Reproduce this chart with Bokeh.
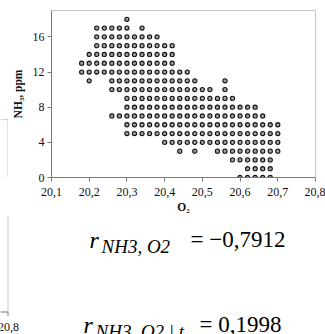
from bokeh.plotting import figure
from bokeh.layouts import column, row
from bokeh.models import Range1d, FixedTicker, CustomJSTickFormatter, ColumnDataSource
from bokeh.core.properties import value
from bokeh.embed import file_html
from bokeh.resources import INLINE

# NH3 level (ppm) -> O2 values (%) observed at that level
nh3_18 = [20.30]
nh3_17 = [20.22, 20.24, 20.26, 20.28, 20.30, 20.34]
nh3_16 = [20.22, 20.24, 20.26, 20.28, 20.30, 20.32, 20.34, 20.36, 20.38]
nh3_15 = [20.22, 20.24, 20.26, 20.28, 20.30, 20.32, 20.34, 20.36, 20.38, 20.40, 20.42]
nh3_14 = [20.20, 20.22, 20.24, 20.26, 20.28, 20.30, 20.32, 20.34, 20.36, 20.38, 20.40, 20.42]
nh3_13 = [20.18, 20.20, 20.22, 20.24, 20.26, 20.28, 20.30, 20.32, 20.34, 20.36, 20.38, 20.40, 20.42]
nh3_12 = [20.18, 20.20, 20.22, 20.24, 20.26, 20.28, 20.30, 20.32, 20.34, 20.36, 20.38, 20.40,
          20.42, 20.44, 20.46]
nh3_11 = [20.20, 20.26, 20.28, 20.30, 20.32, 20.34, 20.36, 20.38, 20.40, 20.42, 20.44, 20.46,
          20.48, 20.56]
nh3_10 = [20.26, 20.28, 20.30, 20.32, 20.34, 20.36, 20.38, 20.40, 20.42, 20.44, 20.46, 20.48,
          20.50, 20.52, 20.56]
nh3_9 = [20.30, 20.32, 20.34, 20.36, 20.38, 20.40, 20.42, 20.44, 20.46, 20.48, 20.50, 20.52,
         20.54, 20.56, 20.58]
nh3_8 = [20.30, 20.32, 20.34, 20.36, 20.38, 20.40, 20.42, 20.44, 20.46, 20.48, 20.50, 20.52,
         20.54, 20.56, 20.58, 20.60, 20.62, 20.64]
nh3_7 = [20.26, 20.28, 20.30, 20.32, 20.34, 20.36, 20.38, 20.40, 20.42, 20.44, 20.46, 20.48,
         20.50, 20.52, 20.54, 20.56, 20.58, 20.60, 20.62, 20.64, 20.66]
nh3_6 = [20.30, 20.32, 20.34, 20.36, 20.38, 20.40, 20.42, 20.44, 20.46, 20.48, 20.50, 20.52,
         20.54, 20.56, 20.58, 20.60, 20.62, 20.64, 20.66, 20.68, 20.70]
nh3_5 = [20.30, 20.32, 20.34, 20.36, 20.38, 20.40, 20.42, 20.44, 20.46, 20.48, 20.50, 20.52,
         20.54, 20.56, 20.58, 20.60, 20.62, 20.64, 20.66, 20.68, 20.70]
nh3_4 = [20.40, 20.42, 20.44, 20.46, 20.48, 20.50, 20.52, 20.54, 20.56, 20.58, 20.60, 20.62,
         20.64, 20.66, 20.68, 20.70]
nh3_3 = [20.44, 20.48, 20.54, 20.56, 20.58, 20.60, 20.62, 20.64, 20.66, 20.68, 20.70]
nh3_2 = [20.58, 20.60, 20.62, 20.64, 20.66, 20.68]
nh3_1 = [20.62, 20.64, 20.66, 20.68]
nh3_0 = [20.60, 20.62, 20.64, 20.66, 20.68]

rows = {18: nh3_18, 17: nh3_17, 16: nh3_16, 15: nh3_15, 14: nh3_14, 13: nh3_13,
        12: nh3_12, 11: nh3_11, 10: nh3_10, 9: nh3_9, 8: nh3_8, 7: nh3_7, 6: nh3_6,
        5: nh3_5, 4: nh3_4, 3: nh3_3, 2: nh3_2, 1: nh3_1, 0: nh3_0}

x_ticks = [20.1, 20.2, 20.3, 20.4, 20.5, 20.6, 20.7, 20.8]
y_ticks = [0, 4, 8, 12, 16]

# correlation coefficients shown under the chart
corr_labels = ["NH3, O2", "NH3, O2 | t"]
corr_values = ["= −0,7912", "= 0,1998"]
# tick label of the neighbouring (cropped) chart at the left edge
neighbour_tick = "20,8"

o2, nh3 = [], []
for level, vals in rows.items():
    for v in vals:
        o2.append(v)
        nh3.append(level)
src = ColumnDataSource(dict(o2=o2, nh3=nh3))

SERIF = "Liberation Serif, Times New Roman, serif"

# ---- main scatter chart -------------------------------------------------
p = figure(width=317, height=215, output_backend="svg", toolbar_location=None,
           x_range=Range1d(20.1, 20.8), y_range=Range1d(0, 19),
           min_border_left=39, min_border_right=10, min_border_top=10,
           min_border_bottom=38)
p.background_fill_color = "white"
p.border_fill_color = "white"
p.outline_line_color = "#c8c8c8"
p.grid.visible = False

p.scatter("o2", "nh3", source=src, marker="circle", size=4.2,
          line_color="#111111", line_width=1.1, fill_color="#a0a0a0")

for ax in (p.xaxis[0], p.yaxis[0]):
    ax.axis_line_color = "#7a7a7a"
    ax.major_tick_line_color = "#7a7a7a"
    ax.minor_tick_line_color = None
    ax.major_tick_in = 0
    ax.major_tick_out = 4
    ax.major_label_text_font = SERIF
    ax.major_label_text_font_size = "12px"
    ax.major_label_text_color = "#111111"
    ax.axis_label_text_font = SERIF
    ax.axis_label_text_font_size = "11.5px"
    ax.axis_label_text_font_style = "bold"
    ax.axis_label_text_color = "#111111"

p.xaxis.ticker = FixedTicker(ticks=x_ticks)
p.yaxis.ticker = FixedTicker(ticks=y_ticks)
p.xaxis.formatter = CustomJSTickFormatter(code="return tick.toFixed(1).replace('.', ',');")
p.xaxis.axis_label = "O₂"
p.yaxis.axis_label = "NH₃, ppm"
p.xaxis.major_label_standoff = 6
p.yaxis.major_label_standoff = 3
p.xaxis.axis_label_standoff = 2
p.yaxis.axis_label_standoff = 6


def blank(width, height, x0, x1, y0, y1):
    f = figure(width=width, height=height, output_backend="svg", toolbar_location=None,
               x_range=Range1d(x0, x1), y_range=Range1d(y0, y1),
               x_axis_location=None, y_axis_location=None,
               min_border=0, min_border_left=0, min_border_right=0,
               min_border_top=0, min_border_bottom=0)
    f.outline_line_color = None
    f.grid.visible = False
    f.background_fill_color = "white"
    f.border_fill_color = "white"
    return f

# ---- left strip: edge of the neighbouring chart (page pixel coordinates) ----
strip = blank(8, 215, 0, 8, 215, 0)
strip.line([0, 7.5, 7.5], [140.5, 140.5, 215], line_color="#c8c8c8", line_width=1)

# ---- lower panel: rest of neighbouring edge + correlation coefficients ----
low = blank(325, 119, 0, 325, 334, 215)
low.line([7.5, 7.5], [215, 311.5], line_color="#c8c8c8", line_width=1)
low.line([0, 7.5], [311.5, 311.5], line_color="#7a7a7a", line_width=1)
low.line([7.5, 7.5], [311.5, 315.5], line_color="#7a7a7a", line_width=1)
low.text(x=[8], y=[322], text=[neighbour_tick], text_font=value(SERIF),
         text_font_size="12px", text_align="center", text_baseline="top",
         text_color="#111111")

r_x = [89, 83]
base_y = [239, 324]
sub_x = [101, 95]
val_x = [190, 199]
low.text(x=r_x, y=base_y, text=["r", "r"], text_font=value(SERIF),
         text_font_style="italic", text_font_size="24px", text_baseline="alphabetic",
         text_color="black")
low.text(x=sub_x, y=[b + 7 for b in base_y], text=corr_labels, text_font=value(SERIF),
         text_font_style="italic", text_font_size="19px", text_baseline="alphabetic",
         text_color="black")
low.text(x=val_x, y=base_y, text=corr_values, text_font=value(SERIF),
         text_font_size="23px", text_baseline="alphabetic", text_color="black")

layout = column(row(strip, p, spacing=0), low, spacing=0)

with open("out.html", "w") as f:
    f.write(file_html(layout, INLINE))
